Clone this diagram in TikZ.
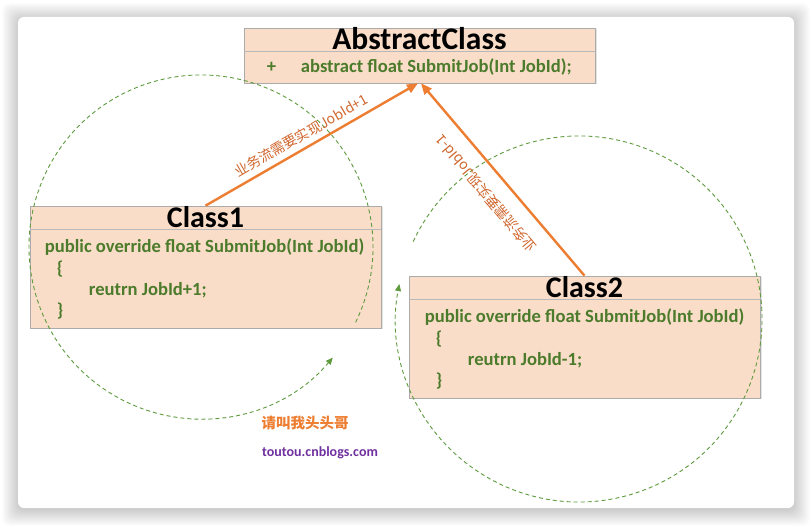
\documentclass[tikz,border=0pt]{standalone}
\usepackage{fontspec}
\setmainfont{Carlito}
\newfontfamily\cjk{Noto Sans CJK SC}
\usetikzlibrary{arrows.meta,calc,shadows}

\definecolor{peach}{HTML}{FADDC9}
\definecolor{boxline}{HTML}{ABABAB}
\definecolor{codegreen}{HTML}{4B7B2B}
\definecolor{dashgreen}{HTML}{5E9B3E}
\definecolor{arroworange}{HTML}{ED7D31}
\definecolor{labelorange}{HTML}{D0672E}
\definecolor{sitepurple}{HTML}{7030A0}

\begin{document}
\begin{tikzpicture}[x=1pt,y=1pt,
  classbox/.style={draw=boxline, line width=0.6pt, fill=peach, minimum width=351pt, inner sep=0pt,
    drop shadow={shadow xshift=1.5pt, shadow yshift=-1.5pt, opacity=0.22}},
  titletxt/.style={font=\fontsize{30}{31}\selectfont\bfseries, text=black, inner sep=0pt, anchor=base},
  codetxt/.style={font=\fontsize{18.6}{20}\selectfont\bfseries, text=codegreen, inner sep=0pt, anchor=base west},
  divline/.style={draw=boxline!85, line width=0.6pt},
  implarrow/.style={draw=arroworange, line width=2.4pt, -{Triangle[length=11pt,width=9pt]}},
  cyclearc/.style={draw=dashgreen, line width=0.9pt, dash pattern=on 4pt off 3pt, -{Triangle[length=7pt,width=6pt]}},
  edgelbl/.style={font=\cjk\fontsize{14}{16}\selectfont, text=labelorange}
]
\useasboundingbox (0,0) rectangle (812,526);
\fill[white] (0,0) rectangle (812,526);
% card with soft shadow
\foreach \i in {1,...,16}{
  \fill[black, opacity=0.012, rounded corners=8pt] (18-\i,16-\i) rectangle (794+\i,507+\i);
}
\fill[white, rounded corners=6pt] (18,18) rectangle (794,509);

% class boxes
\node[classbox, minimum height=55pt] (abs) at (419.5,470.5) {};
\node[classbox, minimum height=122pt] (c1) at (205.5,259) {};
\node[classbox, minimum height=122pt] (c2) at (584.5,189) {};

% AbstractClass
\draw[divline] ($(abs.north west)+(0,-24)$) -- ($(abs.north east)+(0,-24)$);
\node[titletxt, font=\fontsize{31.5}{32}\selectfont\bfseries] (absT) at ($(abs.north)+(0,-21.5)$) {AbstractClass};
\node[codetxt] (absP) at ($(abs.north west)+(23,-44.4)$) {+};
\node[codetxt] (absM) at ($(abs.north west)+(57,-44.4)$) {abstract float SubmitJob(Int JobId);};

% Class1
\draw[divline] ($(c1.north west)+(0,-24)$) -- ($(c1.north east)+(0,-24)$);
\node[titletxt] (c1T) at ($(c1.north)+(0,-21.5)$) {Class1};
\node[codetxt] (c1a) at ($(c1.north west)+(15,-46.7)$) {public override float SubmitJob(Int JobId)};
\node[codetxt] (c1b) at ($(c1.north west)+(27,-68.5)$) {\{};
\node[codetxt] (c1c) at ($(c1.north west)+(59,-90)$) {reutrn JobId+1;};
\node[codetxt] (c1d) at ($(c1.north west)+(27,-110.5)$) {\}};

% Class2
\draw[divline] ($(c2.north west)+(0,-24)$) -- ($(c2.north east)+(0,-24)$);
\node[titletxt] (c2T) at ($(c2.north)+(0,-21.5)$) {Class2};
\node[codetxt] (c2a) at ($(c2.north west)+(16,-46.7)$) {public override float SubmitJob(Int JobId)};
\node[codetxt] (c2b) at ($(c2.north west)+(27,-68.5)$) {\{};
\node[codetxt] (c2c) at ($(c2.north west)+(59,-90)$) {reutrn JobId-1;};
\node[codetxt] (c2d) at ($(c2.north west)+(27,-110.5)$) {\}};

% dashed cycle arcs
\coordinate (o1) at (201,279);
\coordinate (o2) at (579,207);
\draw[cyclearc] ($(o1)+(-26:172pt)$) arc[start angle=-26, end angle=320, radius=172pt];
\draw[cyclearc] ($(o2)+(155:183pt)$) arc[start angle=155, end angle=-191, radius=183pt];

% implementation arrows
\draw[implarrow] (c1.north) -- ([xshift=-1.5pt]abs.south)
  node[edgelbl, pos=0.48, sloped, above=2pt] (l1) {业务流需要实现JobId+1};
\draw[implarrow] (c2.north) -- ([xshift=1.5pt]abs.south)
  node[edgelbl, pos=0.5, sloped, allow upside down, above=11pt] (l2) {业务流需要实现JobId-1};

% signature
\node[font=\cjk\bfseries\fontsize{14.5}{16}\selectfont, text=arroworange] (nick) at (305,103) {请叫我头头哥};
\node[font=\bfseries\fontsize{14}{16}\selectfont, text=sitepurple] (site) at (320,73) {toutou.cnblogs.com};
\end{tikzpicture}
\end{document}
